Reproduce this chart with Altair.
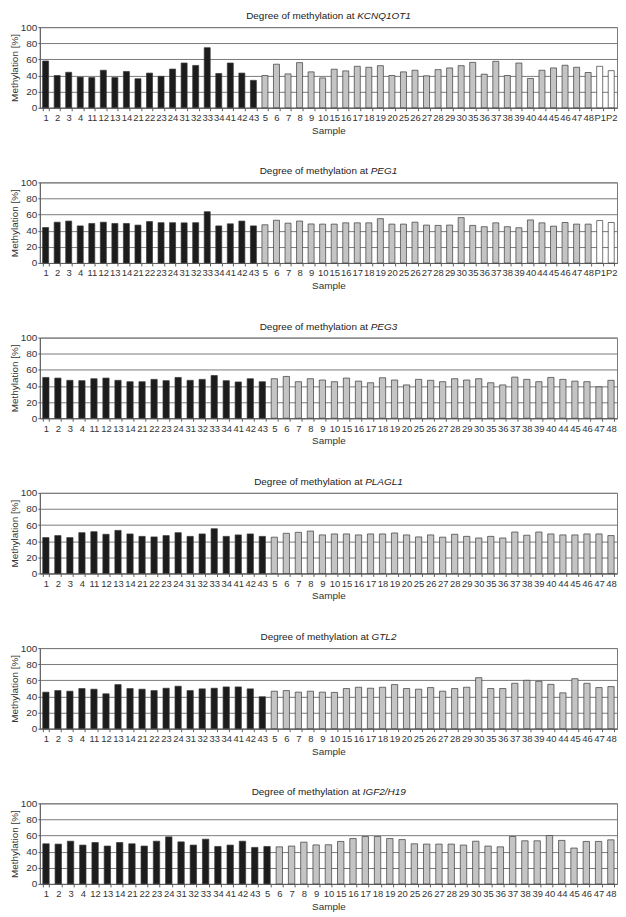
import altair as alt
import pandas as pd

# ---------------- data ----------------
BLACK_A = ["1", "2", "3", "4", "11", "12", "13", "14", "21", "22", "23", "24",
           "31", "32", "33", "34", "41", "42", "43"]
GRAY_A = ["5", "6", "7", "8", "9", "10", "15", "16", "17", "18", "19", "20",
          "25", "26", "27", "28", "29", "30", "35", "36", "37", "38", "39", "40",
          "44", "45", "46", "47", "48"]
WHITE_A = ["P1", "P2"]

BLACK_B = ["1", "2", "3", "4", "12", "13", "14", "21", "22", "23", "24",
           "31", "32", "33", "34", "41", "42", "43", "5"]
GRAY_B = ["6", "7", "8", "9", "10", "15", "16", "17", "18", "19", "20",
          "25", "26", "27", "28", "29", "30", "35", "36", "37", "38", "39", "40",
          "44", "45", "46", "47", "48"]

kcnq_black = [58, 40, 44, 38, 37.5, 46.5, 37.5, 45, 36, 43, 39, 48, 55.5, 52.5, 74.5, 42.5, 55.5, 43, 34]
kcnq_gray = [40, 54, 42, 56, 44.5, 37, 47.8, 45.7, 51.4, 50.2, 52.2, 40, 44.5, 46.5, 39.6, 47.3, 49.4,
             52.2, 56.3, 41.6, 57.6, 40, 55.5, 36.3, 46.5, 49.4, 52.7, 50.2, 43.7]
kcnq_white = [51.4, 46]

peg1_black = [44, 50.6, 52, 46, 49, 50.6, 49, 49, 47, 51.4, 50, 50, 49.8, 50, 63.6, 46, 48.6, 52, 46]
peg1_gray = [47.4, 53, 49.4, 52, 48.4, 48.2, 48.2, 49.8, 49.8, 49.8, 55, 48.2, 48.2, 50.6, 47, 46.6, 47,
             56.3, 46.6, 45, 49.8, 45, 43.7, 53.4, 49.8, 45.7, 50.2, 48.2, 48.2]
peg1_white = [52.6, 50.2]

peg3_black = [50.6, 49.8, 47, 46.6, 49, 49.8, 47, 45.3, 45.3, 48.2, 46.6, 50.6, 47, 48.2, 53, 46.6, 45, 49, 45.3]
peg3_gray = [49, 51.8, 45.3, 49, 47.4, 45.3, 49.8, 46, 44, 50.2, 47.4, 41.3, 48.2, 47, 45.3, 49, 47.4,
             49, 44, 41.3, 51, 48.2, 45.3, 50.6, 48.2, 46, 45.3, 38.9, 47]

plagl1_black = [44.5, 47, 44.5, 50.6, 51.8, 48.6, 53.4, 49, 46, 45.3, 47, 50.6, 46, 49, 55.5, 46, 47.8, 49, 46]
plagl1_gray = [45, 49.8, 51, 52.6, 47.8, 49, 49, 47.8, 49, 49, 50.2, 47.8, 45.3, 47.8, 45, 48.6, 46,
               44, 46, 44, 51.4, 47.4, 51.4, 49, 47.8, 47.8, 49, 49, 47]

gtl2_black = [45.3, 47.3, 46.5, 49.8, 49, 43.3, 54.7, 49.8, 49, 47.3, 50.2, 52.7, 47.3, 49.4, 50.2, 51.8, 51.8, 49.4, 39.6]
gtl2_gray = [46.5, 47.3, 45.3, 46.5, 45.3, 45, 49.8, 51.4, 50.2, 51.4, 54.7, 49.8, 49, 51, 46.5, 49.8, 51.4,
             63.3, 49.8, 49.8, 56.3, 60, 58.8, 55, 44.5, 62, 56.3, 51, 52.2]

igf2_black = [49.8, 49.4, 53, 48.2, 51.4, 47, 51.4, 49.8, 47, 53, 58.4, 52.2, 48.2, 55.5, 46.5, 48.2, 53, 45.3, 46.5]
igf2_gray = [46, 47, 51.8, 48.4, 48.6, 52.7, 56.3, 58.8, 58.8, 56.3, 55, 49.8, 49.4, 49.4, 49.4, 48.2, 53,
             47, 46, 58.8, 53.5, 53.5, 60, 54, 44.5, 52.7, 52.7, 54.7]

PANELS = [
    ("KCNQ1OT1", BLACK_A, kcnq_black, GRAY_A, kcnq_gray, WHITE_A, kcnq_white),
    ("PEG1", BLACK_A, peg1_black, GRAY_A, peg1_gray, WHITE_A, peg1_white),
    ("PEG3", BLACK_A, peg3_black, GRAY_A, peg3_gray, [], []),
    ("PLAGL1", BLACK_A, plagl1_black, GRAY_A, plagl1_gray, [], []),
    ("GTL2", BLACK_A, gtl2_black, GRAY_A, gtl2_gray, [], []),
    ("IGF2/H19", BLACK_B, igf2_black, GRAY_B, igf2_gray, [], []),
]

# ---------------- layout helpers ----------------
FONT = "Liberation Sans"
W, H = 580, 81
TITLE_FS = 10
PREFIX = "Degree of methylation at "

# Arial / Liberation Sans advance widths (per 1000 em) for title text measuring
ADV = {" ": 278, "D": 722, "e": 556, "g": 556, "r": 333, "o": 556, "f": 278, "m": 833,
       "t": 278, "h": 556, "y": 500, "l": 222, "a": 556, "i": 222, "n": 556, "K": 667,
       "C": 722, "N": 722, "Q": 778, "O": 778, "T": 611, "P": 667, "E": 667, "G": 778,
       "L": 556, "A": 667, "I": 278, "H": 722, "/": 278, "1": 556, "2": 556, "3": 556,
       "9": 556}


def text_w(s, fs):
    return sum(ADV.get(c, 556) for c in s) * fs / 1000.0


def panel(gene, bl, bv, gl, gv, wl, wv):
    labels = bl + gl + wl
    df = pd.DataFrame({
        "Sample": labels,
        "value": bv + gv + wv,
        "group": ["a"] * len(bl) + ["b"] * len(gl) + ["c"] * len(wl),
    })
    bars = alt.Chart(df).mark_bar(stroke="#3a3a3a", strokeWidth=0.7).encode(
        x=alt.X("Sample:N", sort=labels,
                scale=alt.Scale(paddingInner=0.48, paddingOuter=0.24),
                axis=alt.Axis(title="Sample", labelAngle=0, labelFontSize=9.5,
                              labelPadding=2, tickBand="extent", tickSize=3,
                              titlePadding=3, titleFontSize=10, titleFontWeight="normal",
                              labelFlush=False, grid=False)),
        y=alt.Y("value:Q", scale=alt.Scale(domain=[0, 100], nice=False),
                axis=alt.Axis(title="Methylation [%]", values=[0, 20, 40, 60, 80, 100],
                              tickSize=2, labelPadding=1, titlePadding=1,
                              labelFontSize=10, titleFontSize=10, titleFontWeight="normal",
                              grid=True, gridColor="#7a7a7a", gridWidth=1)),
        color=alt.Color("group:N", legend=None,
                        scale=alt.Scale(domain=["a", "b", "c"],
                                        range=["#1c1c1c", "#c4c4c4", "#ffffff"])),
    )
    pw = text_w(PREFIX, TITLE_FS)
    gw = text_w(gene, TITLE_FS)
    split_x = W / 2 - (pw + gw) / 2 + pw
    tdf = pd.DataFrame({"prefix": [PREFIX.rstrip()], "gene": [gene]})
    t1 = alt.Chart(tdf).mark_text(align="right", baseline="middle",
                                  font=FONT, fontSize=TITLE_FS, color="#222222",
                                  dx=-text_w(" ", TITLE_FS)).encode(
        text="prefix:N", x=alt.value(split_x), y=alt.value(-11))
    t2 = alt.Chart(tdf).mark_text(align="left", baseline="middle",
                                  font=FONT, fontSize=TITLE_FS, fontStyle="italic",
                                  color="#222222").encode(
        text="gene:N", x=alt.value(split_x), y=alt.value(-11))
    return alt.layer(bars, t1, t2).properties(width=W, height=H)


charts = [panel(*p) for p in PANELS]

chart = alt.vconcat(*charts, spacing=30).properties(
    padding={"left": 0, "top": 0, "right": 0, "bottom": 0}
).configure(font=FONT).configure_view(
    stroke="#7a7a7a", strokeWidth=1
).configure_axis(
    domainColor="#5e5e5e", tickColor="#5e5e5e", labelColor="#333333",
    titleColor="#333333", labelFont=FONT, titleFont=FONT
)

chart.save("out.html", embed_options={"renderer": "svg", "actions": False})
